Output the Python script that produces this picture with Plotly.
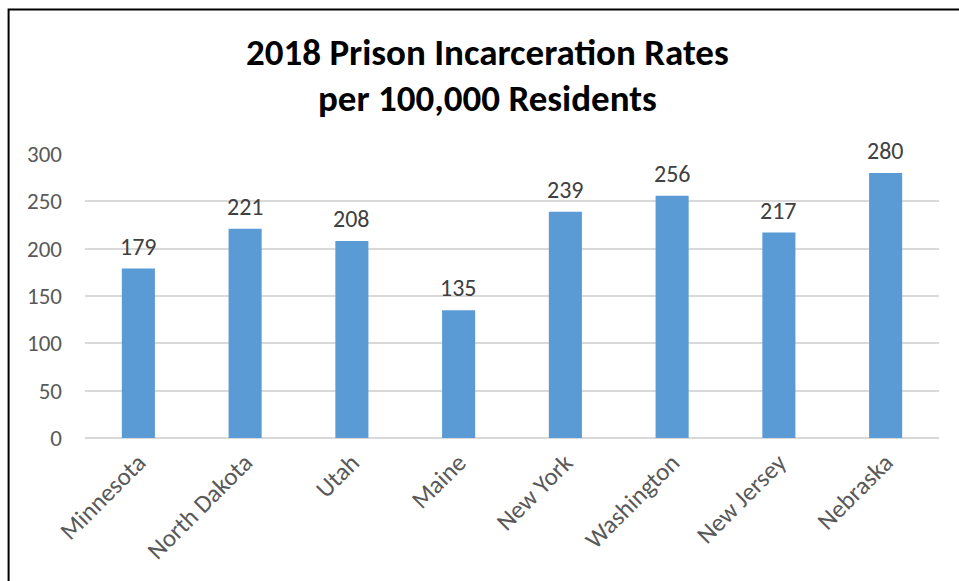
import plotly.graph_objects as go

states = ["Minnesota", "North Dakota", "Utah", "Maine", "New York",
          "Washington", "New Jersey", "Nebraska"]
rates = [179, 221, 208, 135, 239, 256, 217, 280]
y_ticks = [0, 50, 100, 150, 200, 250, 300]

FONT = "Calibri, Carlito, Lato, sans-serif"
GRAY = "#595959"

fig = go.Figure(
    go.Bar(
        x=states,
        y=rates,
        marker=dict(color="#5B9BD5", line=dict(width=0)),
        width=0.31,
        hoverinfo="x+y",
    )
)

# value labels above each bar
for s, v in zip(states, rates):
    fig.add_annotation(
        x=s, y=v, text=str(v), showarrow=False,
        yanchor="bottom", yshift=6,
        font=dict(family=FONT, size=24, color="#404040"),
    )

# two-line bold title
title_x = (488 - 85) / 855
for text, ypix in [("2018 Prison Incarceration Rates", 53),
                   ("per 100,000 Residents", 98)]:
    fig.add_annotation(
        xref="paper", yref="paper", x=title_x, y=1 + (154 - ypix) / 284,
        text=text, showarrow=False,
        yanchor="middle", xanchor="center",
        font=dict(family=FONT, size=37, color="#000000", weight="bold"),
    )

# chart-area frame (left and top edges)
x_left = (8.5 - 85) / 855
y_top = 1 + (154 - 9.5) / 284
fig.add_shape(
    type="path", xref="paper", yref="paper",
    path=f"M {x_left},-1 L {x_left},{y_top} L 1.2,{y_top}",
    line=dict(color="#000000", width=2),
)

fig.update_layout(
    width=959, height=581,
    margin=dict(l=85, r=20, t=154, b=143),
    paper_bgcolor="white", plot_bgcolor="white",
    showlegend=False,
    font=dict(family=FONT, color=GRAY, size=23),
    xaxis=dict(
        tickangle=-45, showgrid=False, zeroline=False,
        showline=False, ticks="", ticklabelstandoff=4,
        tickfont=dict(size=25, color=GRAY),
    ),
    yaxis=dict(
        range=[0, 300], tickvals=y_ticks, showgrid=True,
        gridcolor="#D9D9D9", gridwidth=1.5, zeroline=True,
        zerolinecolor="#D9D9D9", zerolinewidth=2,
        showline=False, ticks="", ticklabelstandoff=22,
        tickfont=dict(size=23, color=GRAY),
    ),
)

fig.write_html("out.html")
